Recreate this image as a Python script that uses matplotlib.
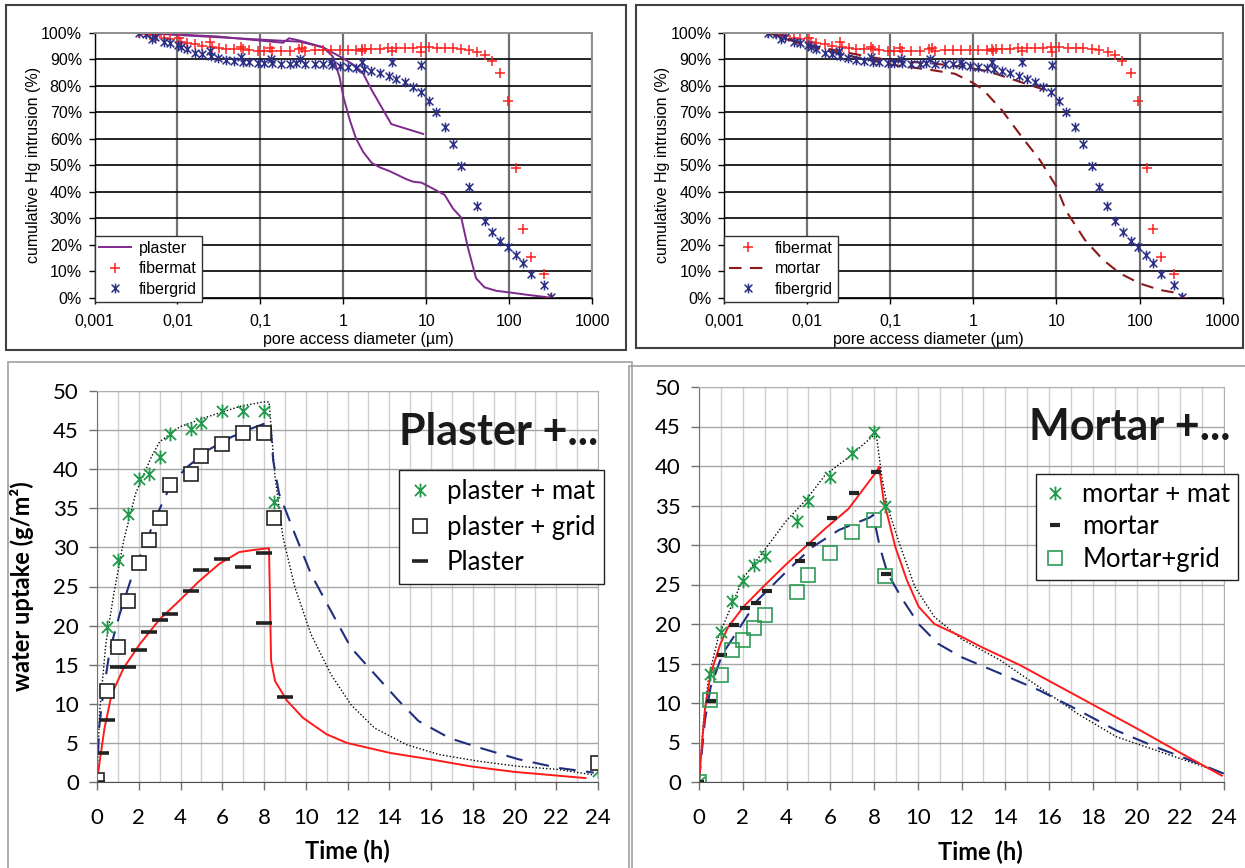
import matplotlib
matplotlib.use("Agg")
import matplotlib.pyplot as plt
from matplotlib.path import Path
from matplotlib.patches import Rectangle

# ---------------- mercury intrusion (top panels) ----------------
diam_ticks = [0.001, 0.01, 0.1, 1, 10, 100, 1000]
diam_labels = ['0,001', '0,01', '0,1', '1', '10', '100', '1000']
pct_ticks = list(range(0, 101, 10))

fibermat_d = [0.0034, 0.0042, 0.0047, 0.0056, 0.0069, 0.0081, 0.0105, 0.011, 0.0129, 0.0163,
              0.0199, 0.025, 0.026, 0.032, 0.039, 0.048, 0.059, 0.062, 0.074, 0.093,
              0.112, 0.13, 0.14, 0.18, 0.23, 0.295, 0.32, 0.35, 0.46, 0.57,
              0.72, 0.91, 1.14, 1.44, 1.66, 1.70, 1.85, 2.19, 2.75, 3.47,
              3.87, 4.38, 5.5, 6.9, 8.6, 8.75, 10.8, 13.6, 17, 21,
              26.5, 32.8, 41.4, 50.7, 62, 78, 97, 122, 147, 183,
              263, 322]
fibermat_p = [100, 99.5, 99.1, 98.8, 98.1, 97.5, 97.9, 96.5, 96.2, 95.6,
              95.0, 96.5, 94.7, 94.1, 93.9, 93.7, 94.7, 93.7, 93.5, 93.2,
              93.2, 94.1, 93.2, 93.2, 93.2, 93.7, 94.1, 93.2, 93.5, 93.5,
              93.5, 93.5, 93.5, 93.5, 93.8, 93.0, 94.0, 94.0, 94.0, 94.1,
              93.0, 94.1, 94.3, 94.3, 94.7, 92.8, 94.7, 94.3, 94.3, 94.1,
              93.8, 93.5, 92.6, 91.6, 89.4, 84.7, 74.2, 48.8, 25.9, 15.2,
              8.9, 0]

fibergrid_d = [0.0034, 0.0042, 0.0049, 0.0054, 0.0069, 0.0081, 0.0102, 0.0112, 0.0129, 0.0163,
               0.0199, 0.0245, 0.0251, 0.031, 0.039, 0.048, 0.059, 0.062, 0.074, 0.093,
               0.112, 0.135, 0.14, 0.18, 0.23, 0.27, 0.30, 0.35, 0.46, 0.57,
               0.72, 0.74, 0.91, 1.14, 1.44, 1.66, 1.77, 2.19, 2.75, 3.56,
               3.87, 4.38, 5.5, 6.9, 8.6, 8.75, 10.8, 13.2, 16.9, 21,
               26.5, 32.8, 41, 50.7, 62.7, 78.3, 96.9, 119.7, 146.6, 183,
               263, 322]
fibergrid_p = [100, 99.4, 97.5, 98.5, 96.6, 96.0, 95.4, 94.7, 93.7, 92.5,
               92.0, 93.2, 91.2, 90.6, 89.7, 89.4, 90.9, 89.1, 88.8, 88.7,
               88.4, 90.0, 88.4, 88.2, 88.2, 88.4, 90.0, 88.2, 88.1, 88.1,
               89.1, 87.8, 87.4, 87.2, 86.8, 89.1, 86.2, 85.5, 84.9, 83.8,
               88.8, 82.5, 81.4, 79.6, 77.7, 87.8, 74.2, 70.0, 64.5, 58.0,
               49.8, 41.9, 34.7, 28.9, 24.8, 21.5, 19.0, 16.1, 13.0, 8.8,
               4.7, 0.15]

plaster_d = [0.0034, 0.03, 0.188, 0.222, 0.3, 0.57, 0.75, 0.9, 1.0, 1.2,
             1.42, 1.73, 2.2, 2.75, 3.6, 5.8, 6.9, 8.8, 10.9, 16.7,
             21, 26.5, 31.7, 40, 50.7, 70, 100, 175, 322]
plaster_p = [100, 98.6, 96.2, 97.9, 97.0, 94.5, 91, 83.4, 76, 67,
             60.2, 55.1, 50.9, 49.2, 47.8, 44.7, 43.8, 43.4, 41.9, 38.8,
             33.7, 30.2, 19.2, 7.3, 3.9, 2.6, 2.0, 1.0, 0]
plaster2_d = [0.0034, 0.03, 0.3, 0.57, 1.0, 1.44, 1.73, 2.2, 3.8, 9.2]
plaster2_p = [100, 98.3, 96.6, 94.5, 90.3, 87.2, 84.7, 78.4, 65.5, 61.8]

mortar_d = [0.0034, 0.01, 0.03, 0.1, 0.3, 0.6, 1.0, 1.32, 2.2, 3.8,
            6.3, 10, 13.2, 22, 36.6, 58, 100, 177, 256, 336]
mortar_p = [100, 95, 91.5, 88, 86, 84.5, 81, 78.4, 70.8, 60.8,
            52, 41.9, 32.5, 21.8, 14.2, 9.2, 5.4, 2.9, 2.0, 0]
mortar2_d = [0.0034, 0.01, 0.03, 0.1, 0.3, 0.72, 1.5, 3.6, 8.6]
mortar2_p = [100, 95.5, 92.5, 89.5, 88.5, 87.2, 85.5, 81.5, 77.7]

# ---------------- water uptake (bottom panels) ----------------
time_ticks = list(range(0, 25, 2))
uptake_ticks = list(range(0, 51, 5))

pl_mat_t = [0, 0.5, 1, 1.5, 2, 2.5, 3, 3.5, 4.5, 5, 6, 7, 8, 8.5, 24]
pl_mat_y = [0, 19.8, 28.4, 34.3, 38.7, 39.4, 41.6, 44.5, 45.2, 45.9, 47.4, 47.4, 47.4, 35.8, 1.4]
pl_grid_t = [0, 0.5, 1, 1.5, 2, 2.5, 3, 3.5, 4.5, 5, 6, 7, 8, 8.5, 24]
pl_grid_y = [0.3, 11.6, 17.3, 23.1, 28.0, 30.9, 33.8, 38.0, 39.4, 41.7, 43.2, 44.6, 44.6, 33.8, 2.4]
pl_t = [0, 0.17, 0.5, 1, 1.5, 2, 2.5, 3, 3.5, 4.5, 5, 6, 7, 8, 8, 9]
pl_y = [0, 3.7, 7.9, 14.7, 14.7, 16.9, 19.2, 20.7, 21.5, 24.4, 27.1, 28.5, 27.5, 29.3, 20.3, 10.9]

fit_pl_t = [0, 0.13, 0.36, 0.7, 1.28, 2.04, 3.0, 3.95, 4.9, 5.86, 6.81, 7.58, 8.24,
            8.34, 8.53, 9.1, 9.87, 11.0, 11.97, 14.07, 15.97, 17.9, 19.98, 23.4]
fit_pl_y = [0, 2.65, 6.9, 11.2, 14.6, 17.6, 20.8, 23.2, 25.7, 27.9, 29.4, 29.7, 29.9,
            15.5, 12.9, 10.4, 8.2, 6.1, 5.0, 3.7, 2.9, 2.0, 1.3, 0.5]
fit_plg_t = [0, 0.1, 0.29, 0.61, 1.09, 1.66, 2.23, 3.0, 3.57, 4.33, 5.29, 6.43, 7.39, 8.3,
             8.44, 8.72, 9.48, 10.25, 11.2, 12.16, 13.3, 14.45, 15.4, 16.9, 18.3, 20.2, 22.1, 23.8]
fit_plg_y = [0, 6.9, 11.2, 16.8, 21.5, 26.2, 30.0, 34.9, 38.2, 40.3, 42.4, 44.1, 45.2, 46.1,
             41.1, 36.9, 31.7, 26.6, 21.9, 17.2, 13.8, 10.4, 7.8, 5.6, 4.4, 2.9, 1.8, 1.2]
fit_plm_t = [0, 0.13, 0.42, 0.8, 1.28, 1.85, 2.61, 3.0, 3.95, 5.29, 6.81, 7.96, 8.24,
             8.34, 8.53, 8.91, 9.48, 10.25, 11.2, 12.16, 13.3, 14.8, 16.4, 18.3, 20.2, 22.1, 23.8]
fit_plm_y = [0, 9.1, 17.6, 24.0, 30.9, 36.9, 41.6, 43.5, 45.4, 46.7, 48.0, 48.6, 48.6,
             45.4, 39.0, 31.3, 24.9, 18.9, 13.8, 9.9, 6.9, 4.8, 3.5, 2.65, 2.0, 1.6, 0.9]

mo_mat_t = [0, 0.5, 1, 1.5, 2, 2.5, 3, 4.5, 5, 6, 7, 8, 8.5]
mo_mat_y = [0, 13.7, 19.0, 22.9, 25.5, 27.5, 28.6, 33.1, 35.6, 38.6, 41.6, 44.3, 35.0]
mo_t = [0, 0.55, 1.05, 1.6, 2.1, 2.6, 3.1, 4.6, 5.1, 6.1, 7.1, 8.1, 8.55]
mo_y = [0, 10.3, 16.1, 19.9, 22.0, 22.6, 24.2, 28.0, 30.1, 33.4, 36.6, 39.3, 26.3]
mo_grid_t = [0, 0.5, 1, 1.5, 2, 2.5, 3, 4.5, 5, 6, 7, 8, 8.5]
mo_grid_y = [0, 10.4, 13.6, 16.7, 18.0, 19.5, 21.2, 24.0, 26.2, 29.0, 31.6, 33.2, 26.1]

fit_mo_t = [0, 0.14, 0.27, 0.53, 0.98, 1.33, 2.04, 2.93, 4.0, 5.78, 6.84, 8.09, 8.23,
            8.44, 8.98, 9.51, 10.04, 10.76, 12.0, 12.9, 14.67, 16.4, 18.2, 20.0, 21.8, 23.9]
fit_mo_y = [0, 4.9, 9.1, 13.7, 17.5, 19.6, 22.2, 24.7, 27.6, 32.1, 34.6, 39.2, 39.9,
            35.7, 29.7, 25.5, 22.2, 20.0, 18.4, 17.1, 14.8, 12.2, 9.5, 6.8, 4.0, 0.8]
fit_mog_t = [0, 0.09, 0.27, 0.53, 1.07, 1.78, 2.67, 3.91, 5.16, 6.4, 7.82, 7.96,
             8.27, 8.62, 9.33, 10.04, 10.93, 12.0, 13.8, 15.56, 17.33, 19.1, 20.9, 22.7, 24]
fit_mog_y = [0, 2.7, 7.8, 12.0, 16.2, 19.2, 23.0, 26.4, 29.7, 31.9, 33.5, 33.8,
             29.7, 26.4, 23.0, 20.0, 17.5, 15.8, 13.7, 11.6, 9.1, 6.5, 4.4, 2.5, 1.05]
fit_mom_t = [0, 0.18, 0.44, 0.89, 1.33, 2.04, 2.76, 4.0, 4.89, 5.78, 6.84, 7.91, 8.09,
             8.36, 8.62, 9.16, 9.87, 10.76, 12.0, 13.78, 15.56, 17.33, 19.1, 20.9, 22.7, 24]
fit_mom_y = [0, 7.0, 13.3, 18.4, 21.3, 25.9, 28.5, 33.1, 35.7, 38.9, 41.1, 43.7, 44.3,
             38.6, 34.8, 30.2, 24.7, 20.9, 18.1, 15.4, 12.0, 8.6, 5.7, 4.0, 2.3, 1.05]

W, H = 1245, 868
STAR = Path([(-1, -1), (1, 1), (-1, 1), (1, -1), (0, -1.25), (0, 1.25)],
            [Path.MOVETO, Path.LINETO, Path.MOVETO, Path.LINETO, Path.MOVETO, Path.LINETO])
RED = '#ff2020'
NAVY = '#2b2f86'
PURPLE = '#7d2a8c'
GREEN = '#1f9a4a'

fig = plt.figure(figsize=(W / 100, H / 100), dpi=100)
fig.patch.set_facecolor('white')

# outer frames like the pasted excel charts
fig.add_artist(Rectangle((6 / W, 1 - 350 / H), 620 / W, 345 / H, transform=fig.transFigure,
                         fill=False, ec='#404040', lw=1.5))
fig.add_artist(Rectangle((636 / W, 1 - 348 / H), 607 / W, 343 / H, transform=fig.transFigure,
                         fill=False, ec='#404040', lw=1.5))
fig.add_artist(Rectangle((8 / W, -0.01), 624 / W, 1 - 362 / H + 0.01, transform=fig.transFigure,
                         fill=False, ec='#a0a0a0', lw=1.2))
fig.add_artist(Rectangle((629 / W, -0.01), 620 / W, 1 - 366 / H + 0.01, transform=fig.transFigure,
                         fill=False, ec='#a0a0a0', lw=1.2))


def setup_top(ax, ylab_x, xlab_x):
    ax.set_xscale('log')
    ax.set_xlim(0.001, 1000)
    ax.set_ylim(0, 100)
    ax.set_xticks(diam_ticks)
    ax.set_xticklabels(diam_labels)
    ax.minorticks_off()
    ax.set_yticks(pct_ticks)
    ax.set_yticklabels([f'{v}%' for v in pct_ticks])
    ax.grid(axis='y', color='black', lw=1.2)
    ax.grid(axis='x', color='#707070', lw=1.6)
    ax.set_axisbelow(True)
    for s in ['left', 'bottom']:
        ax.spines[s].set_color('black')
        ax.spines[s].set_linewidth(1.0)
    for s in ['top', 'right']:
        ax.spines[s].set_color('#909090')
        ax.spines[s].set_linewidth(1.4)
    ax.tick_params(direction='out', length=4, width=1, labelsize=11.5, pad=5)
    ax.tick_params(axis='x', pad=8)
    ax.set_ylabel('cumulative Hg intrusion (%)', fontsize=11.5)
    ax.yaxis.set_label_coords(ylab_x, 0.5)
    ax.set_xlabel('pore access diameter (\u00b5m)', fontsize=11.5)
    ax.xaxis.set_label_coords(xlab_x, -0.128)


plt.rcParams['font.family'] = ['Liberation Sans', 'DejaVu Sans']

ax1 = fig.add_axes([94.5 / W, 1 - 297.7 / H, 497.5 / W, 265 / H])
setup_top(ax1, -0.108, 0.53)
ax1.plot(plaster_d, plaster_p, color=PURPLE, lw=1.4, label='plaster')
ax1.plot(plaster2_d, plaster2_p, color=PURPLE, lw=1.4)
ax1.plot(fibermat_d, fibermat_p, ls='none', marker='+', ms=7, mew=1.1, color=RED, label='fibermat')
ax1.plot(fibergrid_d, fibergrid_p, ls='none', marker=STAR, ms=7, mew=1.1, color=NAVY, label='fibergrid')
leg = ax1.legend(loc='lower left', bbox_to_anchor=(0.0, -0.015), borderaxespad=0, fontsize=11.5,
                 frameon=True, fancybox=False, edgecolor='#333333', framealpha=1,
                 handlelength=2.0, borderpad=0.3, labelspacing=0.35, handletextpad=0.5)
leg.get_frame().set_linewidth(1.0)

ax2 = fig.add_axes([724 / W, 1 - 297.7 / H, 498.7 / W, 265 / H])
setup_top(ax2, -0.108, 0.41)
ax2.plot(fibermat_d, fibermat_p, ls='none', marker='+', ms=7, mew=1.1, color=RED, label='fibermat')
ax2.plot(mortar_d, mortar_p, color='#8b1a1a', lw=1.5, ls=(0, (6, 4)), label='mortar')
ax2.plot(mortar2_d, mortar2_p, color='#8b1a1a', lw=1.5, ls=(0, (6, 4)))
ax2.plot(fibergrid_d, fibergrid_p, ls='none', marker=STAR, ms=7, mew=1.1, color=NAVY, label='fibergrid')
leg = ax2.legend(loc='lower left', bbox_to_anchor=(0.0, -0.015), borderaxespad=0, fontsize=11.5,
                 frameon=True, fancybox=False, edgecolor='#333333', framealpha=1,
                 handlelength=2.4, borderpad=0.3, labelspacing=0.35, handletextpad=0.5)
leg.get_frame().set_linewidth(1.0)

# ---------------- bottom panels ----------------
plt.rcParams['font.family'] = ['Lato', 'DejaVu Sans']


def setup_bottom(ax, xlab_x):
    ax.set_xlim(0, 24)
    ax.set_ylim(0, 50)
    ax.set_xticks(time_ticks)
    ax.set_xticks(range(0, 25), minor=True)
    ax.set_yticks(uptake_ticks)
    ax.grid(axis='x', which='both', color='#cfcfcf', lw=1.0)
    ax.grid(axis='y', color='#a6a6a6', lw=1.0)
    ax.set_axisbelow(True)
    ax.spines['left'].set_color('#707070')
    ax.spines['bottom'].set_color('#505050')
    for s in ['top', 'right']:
        ax.spines[s].set_color('#b0b0b0')
    ax.tick_params(which='major', direction='out', length=6, width=1, color='#707070', labelsize=16)
    ax.tick_params(which='minor', length=0)
    ax.tick_params(axis='x', pad=13)
    ax.tick_params(axis='y', pad=7)
    ax.set_xlabel('Time (h)', fontsize=17, fontweight='bold')
    ax.xaxis.set_label_coords(xlab_x, -0.148)


ax3 = fig.add_axes([97 / W, 1 - 782 / H, 501 / W, 391 / H])
setup_bottom(ax3, 0.5)
ax3.plot(fit_plm_t, fit_plm_y, color='black', lw=1.0, ls=(0, (1, 1.5)))
ax3.plot(fit_plg_t, fit_plg_y, color='#1f2f7f', lw=1.5, ls=(0, (8, 5)))
ax3.plot(fit_pl_t, fit_pl_y, color='#ff1a1a', lw=1.4)
ax3.plot(pl_mat_t, pl_mat_y, ls='none', marker=STAR, ms=10, mew=1.3, color=GREEN, label='plaster + mat')
ax3.plot(pl_grid_t, pl_grid_y, ls='none', marker='s', ms=9.5, mew=1.2, mfc='white', mec='#222222',
         label='plaster + grid')
ax3.plot(pl_t, pl_y, ls='none', marker='_', ms=11, mew=2.6, color='#222222', label='Plaster')
ax3.set_ylabel('water uptake (g/m\u00b2)', fontsize=17, fontweight='bold')
ax3.yaxis.set_label_coords(-0.125, 0.5)
ax3.text(1.0, 0.895, 'Plaster +...', transform=ax3.transAxes, ha='right', va='center',
         fontsize=31, fontweight='bold', color='#1a1a1a')
leg = ax3.legend(loc='upper right', bbox_to_anchor=(1.012, 0.797), borderaxespad=0, fontsize=18.5,
                 frameon=True, fancybox=False, edgecolor='#222222', framealpha=1,
                 handlelength=0.9, borderpad=0.35, labelspacing=0.4, handletextpad=0.6)
leg.get_frame().set_linewidth(1.0)

ax4 = fig.add_axes([699 / W, 1 - 782 / H, 525 / W, 395 / H])
setup_bottom(ax4, 0.535)
ax4.plot(fit_mom_t, fit_mom_y, color='black', lw=1.0, ls=(0, (1, 1.5)))
ax4.plot(fit_mog_t, fit_mog_y, color='#1f2f7f', lw=1.5, ls=(0, (8, 5)))
ax4.plot(fit_mo_t, fit_mo_y, color='#ff1a1a', lw=1.4)
ax4.plot(mo_mat_t, mo_mat_y, ls='none', marker=STAR, ms=10, mew=1.3, color=GREEN, label='mortar + mat')
ax4.plot(mo_t, mo_y, ls='none', marker='_', ms=7, mew=3.0, color='#222222', label='mortar')
ax4.plot(mo_grid_t, mo_grid_y, ls='none', marker='s', ms=9.5, mew=1.2, mfc='none', mec='#2e9a55',
         label='Mortar+grid')
ax4.text(1.013, 0.899, 'Mortar +...', transform=ax4.transAxes, ha='right', va='center',
         fontsize=31, fontweight='bold', color='#1a1a1a')
leg = ax4.legend(loc='upper right', bbox_to_anchor=(1.027, 0.78), borderaxespad=0, fontsize=18.5,
                 frameon=True, fancybox=False, edgecolor='#222222', framealpha=1,
                 handlelength=0.9, borderpad=0.3, labelspacing=0.3, handletextpad=0.6)
leg.get_frame().set_linewidth(1.0)

fig.savefig('out.png', dpi=100)
